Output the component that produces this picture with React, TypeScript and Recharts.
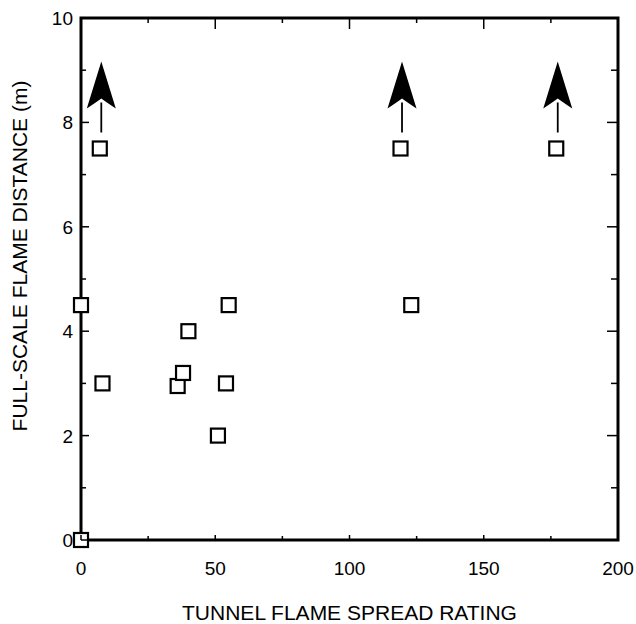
import React from 'react';
import { ScatterChart, Scatter, XAxis, YAxis, Label, ReferenceArea } from 'recharts';

// measured points (tunnel rating, full-scale distance)
const ratings = [0, 0, 7, 8, 36, 38, 40, 51, 54, 55, 119, 123, 177];
const distances = [0, 4.5, 7.5, 3, 2.95, 3.2, 4, 2, 3, 4.5, 7.5, 4.5, 7.5];

// points where the flame went beyond the test length
const arrowRatings = [7, 119, 177];
const arrowDistances = [7.5, 7.5, 7.5];

const xTicks = [0, 25, 50, 75, 100, 125, 150, 175, 200];
const yTicks = [0, 1, 2, 3, 4, 5, 6, 7, 8, 9, 10];

const points = ratings.map((x, i) => ({ x, y: distances[i] }));
const arrows = arrowRatings.map((x, i) => ({ x, y: arrowDistances[i] }));

const FONT = '"Liberation Sans", Arial, sans-serif';

const Square = (props: any) => {
  const { cx, cy } = props;
  return (
    <rect x={cx - 7} y={cy - 7} width={14} height={14} fill="#fff" stroke="#000" strokeWidth={2.2} />
  );
};

const Arrow = (props: any) => {
  const { cx, cy } = props;
  const ax = cx + 1.5;
  return (
    <g>
      <line x1={ax} y1={cy - 16} x2={ax} y2={cy - 46} stroke="#000" strokeWidth={1.8} />
      <path
        d={`M ${ax} ${cy - 87} L ${ax + 14.5} ${cy - 40} Q ${ax + 4} ${cy - 47} ${ax} ${cy - 50} Q ${ax - 4} ${cy - 47} ${ax - 14.5} ${cy - 40} Z`}
        fill="#000"
      />
    </g>
  );
};

const Hidden = () => null;

const makeTick = (side: 'bottom' | 'top' | 'left' | 'right') => (props: any) => {
  const { x, y, payload } = props;
  const v = payload.value;
  if (side === 'bottom' || side === 'top') {
    const major = v % 50 === 0;
    const len = side === 'top' ? (major ? 11 : 5) : major ? 5 : 4;
    const dir = side === 'top' ? 1 : -1;
    return (
      <g>
        <line x1={x} y1={y} x2={x} y2={y + dir * len} stroke="#000" strokeWidth={1.5} />
        {side === 'bottom' && major && (
          <text x={x} y={y + 35} textAnchor="middle" fontSize={19} fontFamily={FONT} fill="#000">
            {v}
          </text>
        )}
      </g>
    );
  }
  const major = v % 2 === 0;
  const len = side === 'right' ? (major ? 11 : 7) : major ? 8 : 5;
  const dir = side === 'left' ? 1 : -1;
  return (
    <g>
      <line x1={x} y1={y} x2={x + dir * len} y2={y} stroke="#000" strokeWidth={1.5} />
      {side === 'left' && major && (
        <text x={x - 8} y={y + 7} textAnchor="end" fontSize={19} fontFamily={FONT} fill="#000">
          {v}
        </text>
      )}
    </g>
  );
};

export default function App() {
  return (
    <div style={{ position: 'absolute', left: 0, top: 0, width: 636, height: 624, background: '#fff' }}>
      <ScatterChart width={636} height={624} margin={{ top: 17, right: 17, bottom: 0, left: 0 }}>
        <XAxis
          xAxisId="b"
          type="number"
          dataKey="x"
          domain={[0, 200]}
          ticks={xTicks}
          interval={0}
          height={84}
          tickSize={0}
          tickMargin={0}
          tickLine={false}
          tick={makeTick('bottom')}
          axisLine={false}
        >
          <Label
            content={(p: any) => (
              <text
                x={p.viewBox.x + p.viewBox.width / 2}
                y={p.viewBox.y + 80}
                textAnchor="middle"
                fontSize={21}
                fontFamily={FONT}
                fill="#000"
              >
                TUNNEL FLAME SPREAD RATING
              </text>
            )}
          />
        </XAxis>
        <XAxis
          xAxisId="t"
          orientation="top"
          type="number"
          dataKey="x"
          domain={[0, 200]}
          ticks={xTicks}
          interval={0}
          height={1}
          tickSize={0}
          tickMargin={0}
          tickLine={false}
          tick={makeTick('top')}
          axisLine={false}
        />
        <YAxis
          yAxisId="l"
          type="number"
          dataKey="y"
          domain={[0, 10]}
          ticks={yTicks}
          interval={0}
          width={81}
          tickSize={0}
          tickMargin={0}
          tickLine={false}
          tick={makeTick('left')}
          axisLine={false}
        >
          <Label
            content={(p: any) => {
              const cx = 19;
              const cy = p.viewBox.y + p.viewBox.height / 2 - 23;
              return (
                <text
                  x={cx}
                  y={cy}
                  transform={`rotate(-90 ${cx} ${cy})`}
                  textAnchor="middle"
                  dominantBaseline="central"
                  fontSize={21}
                  fontFamily={FONT}
                  fill="#000"
                >
                  FULL-SCALE FLAME DISTANCE (m)
                </text>
              );
            }}
          />
        </YAxis>
        <YAxis
          yAxisId="r"
          orientation="right"
          type="number"
          dataKey="y"
          domain={[0, 10]}
          ticks={yTicks}
          interval={0}
          width={1}
          tickSize={0}
          tickMargin={0}
          tickLine={false}
          tick={makeTick('right')}
          axisLine={false}
        />
        <ReferenceArea
          xAxisId="b"
          yAxisId="l"
          x1={0}
          x2={200}
          y1={0}
          y2={10}
          fill="none"
          fillOpacity={0}
          stroke="#000"
          strokeWidth={3}
          strokeOpacity={1}
          ifOverflow="visible"
        />
        <Scatter xAxisId="t" yAxisId="r" data={points} shape={Hidden} isAnimationActive={false} />
        <Scatter xAxisId="b" yAxisId="l" data={arrows} shape={Arrow} isAnimationActive={false} />
        <Scatter xAxisId="b" yAxisId="l" data={points} shape={Square} isAnimationActive={false} />
      </ScatterChart>
    </div>
  );
}
